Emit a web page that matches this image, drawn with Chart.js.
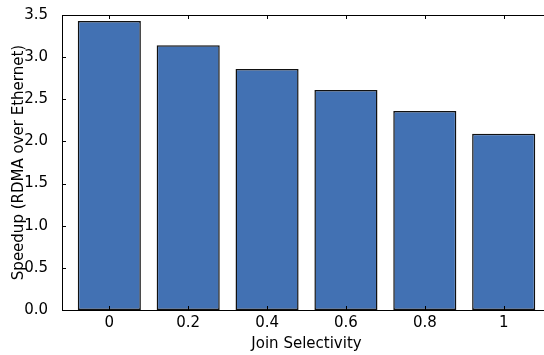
<!DOCTYPE html>
<html>
<head>
<meta charset="utf-8">
<script src="https://cdn.jsdelivr.net/npm/chart.js@4/dist/chart.umd.min.js"></script>
<style>
    html, body { margin: 0; padding: 0; background: #fff; overflow: hidden; }
    #wrap { width: 560px; height: 355px; }
</style>
</head>
<body>
<div id="wrap"><canvas id="speedupChart" width="560" height="355"></canvas></div>
<script>
// Join selectivity categories and measured speedups
const selectivity = ['0', '0.2', '0.4', '0.6', '0.8', '1'];
const speedup = [3.43, 3.14, 2.86, 2.61, 2.36, 2.09];
const yTicks = [0, 0.5, 1.0, 1.5, 2.0, 2.5, 3.0, 3.5];

// Box around plot area plus inward tick marks, matplotlib style
const frameTicks = {
    id: 'frameTicks',
    afterDatasetsDraw(chart) {
        const { ctx, chartArea: a, scales: { x, y } } = chart;
        ctx.save();
        ctx.strokeStyle = '#000';
        ctx.lineWidth = 1;
        selectivity.forEach((_, i) => {
            const px = Math.round(x.getPixelForValue(i)) + 0.5;
            ctx.beginPath();
            ctx.moveTo(px, a.bottom); ctx.lineTo(px, a.bottom - 4);
            ctx.moveTo(px, a.top); ctx.lineTo(px, a.top + 4);
            ctx.stroke();
        });
        yTicks.forEach(v => {
            const py = Math.round(y.getPixelForValue(v)) + 0.5;
            ctx.beginPath();
            ctx.moveTo(a.left, py); ctx.lineTo(a.left + 4, py);
            ctx.moveTo(a.right, py); ctx.lineTo(a.right - 4, py);
            ctx.stroke();
        });
        ctx.strokeRect(Math.round(a.left) + 0.5, Math.round(a.top) + 0.5,
            Math.round(a.right - a.left), Math.round(a.bottom - a.top));
        ctx.restore();
    }
};

const ctx = document.getElementById('speedupChart').getContext('2d');
const speedupChart = new Chart(ctx, {
    type: 'bar',
    data: {
        datasets: [{
            data: speedup.map((v, i) => ({ x: i, y: v })),
            backgroundColor: '#4271b3',
            borderColor: '#111',
            borderWidth: 1.5,
            borderSkipped: false,
            barPercentage: 0.8,
            categoryPercentage: 1.0
        }]
    },
    options: {
        responsive: false,
        animation: false,
        layout: { padding: { top: 15, right: 9, left: 0, bottom: 0 } },
        scales: {
            x: {
                type: 'linear',
                offset: false,
                min: -0.6,
                max: 5.6,
                afterBuildTicks: scale => {
                    scale.ticks = selectivity.map((_, i) => ({ value: i }));
                },
                afterFit: scale => { scale.height = 45; },
                ticks: {
                    autoSkip: false,
                    maxRotation: 0,
                    padding: -4,
                    color: '#000',
                    font: { family: 'DejaVu Sans', size: 15 },
                    callback: value => selectivity[value]
                },
                grid: { display: false },
                border: { display: false },
                title: {
                    display: true,
                    text: 'Join Selectivity',
                    color: '#000',
                    font: { family: 'DejaVu Sans', size: 15 },
                    padding: { top: 0, bottom: 2 }
                }
            },
            y: {
                min: 0,
                max: 3.5,
                afterBuildTicks: scale => {
                    scale.ticks = yTicks.map(v => ({ value: v }));
                },
                afterFit: scale => { scale.width = 62; },
                ticks: {
                    padding: 6,
                    color: '#000',
                    font: { family: 'DejaVu Sans', size: 15 },
                    callback: value => value.toFixed(1)
                },
                grid: { display: false },
                border: { display: false },
                title: {
                    display: true,
                    text: 'Speedup (RDMA over Ethernet)',
                    color: '#000',
                    font: { family: 'DejaVu Sans', size: 15 },
                    padding: { top: 10, bottom: 0 }
                }
            }
        },
        plugins: {
            legend: { display: false },
            tooltip: { enabled: false }
        }
    },
    plugins: [frameTicks]
});
</script>
</body>
</html>
